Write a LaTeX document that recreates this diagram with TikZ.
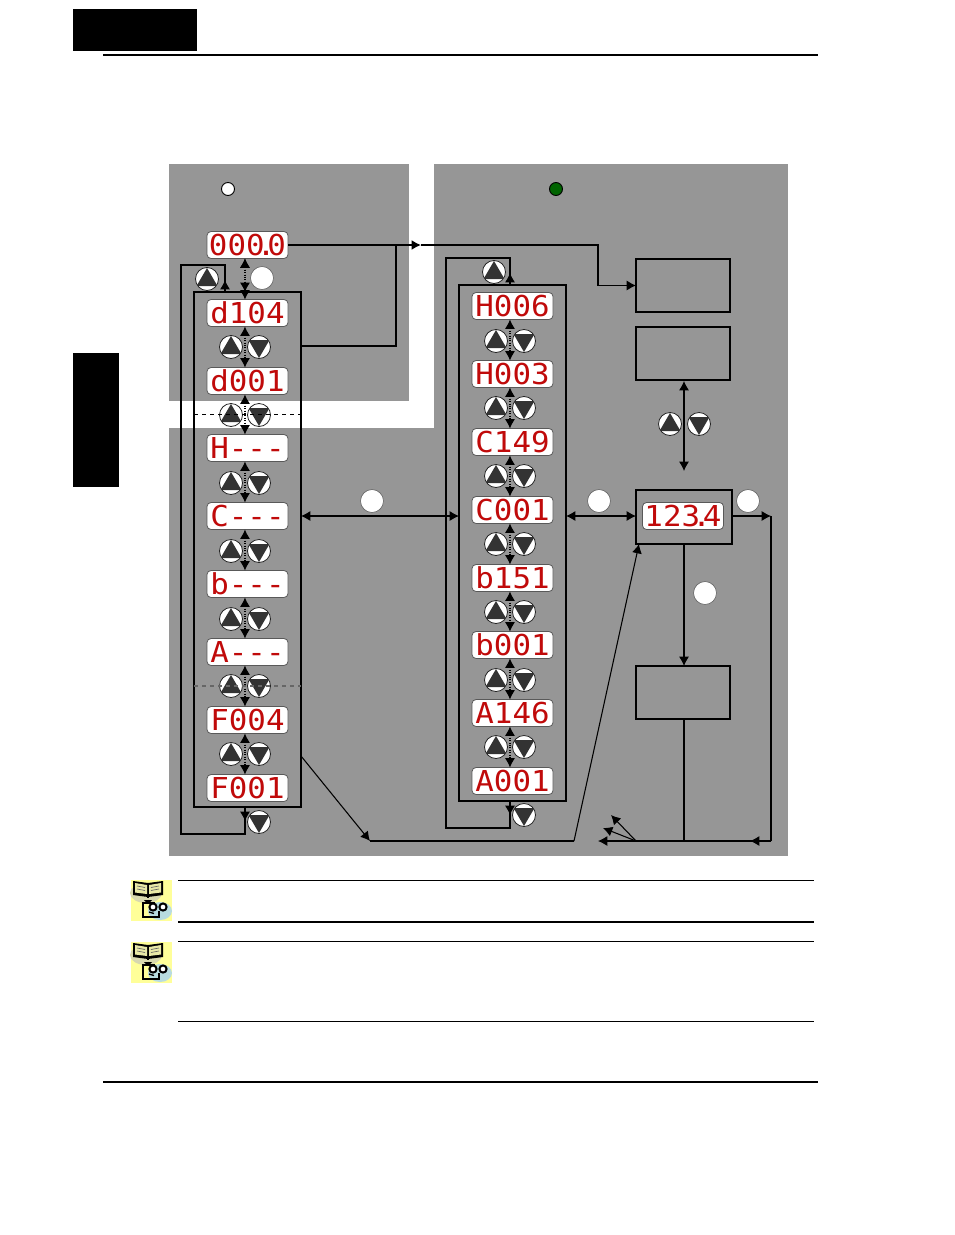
\documentclass[tikz,border=0pt]{standalone}
\usepackage{fontspec}
\usepackage{graphicx}
\usetikzlibrary{arrows.meta}
\newfontfamily\ledfont{DejaVu Sans Mono}
\definecolor{panel}{HTML}{969696}
\definecolor{ledred}{HTML}{C00A0A}
\definecolor{btndark}{HTML}{333333}
\definecolor{iconyellow}{HTML}{FFFF99}
\definecolor{iconbeige}{HTML}{D8D8B0}
\definecolor{iconblue}{HTML}{B8DCE0}
\definecolor{ledgreen}{HTML}{006400}
\newcommand{\ledtxt}[1]{\scalebox{1.07}[1]{#1}}
\newcommand{\ledkern}{\kern-5.5pt}
\tikzset{
  x=.75pt,y=-.75pt,
  tip/.style={-{Latex[length=7pt,width=7.5pt]}},
  tips/.style={{Latex[length=7pt,width=7.5pt]}-{Latex[length=7pt,width=7.5pt]}},
  wire/.style={line width=.8pt,black},
  sz/.style 2 args={minimum width=#1*.75pt,minimum height=#2*.75pt},
  frame/.style={draw=black,line width=.8pt,inner sep=0pt,outer sep=0pt},
  ledbox/.style={draw=black!65,line width=.6pt,fill=white,rounded corners=3pt,inner sep=0pt,outer sep=0pt,
    sz={81}{27},font=\ledfont\fontsize{21.6pt}{22pt}\selectfont,text=ledred,text height=15.75pt,text depth=0pt},
  link/.style={wire,densely dotted,tips},
  blank/.style={circle,draw=black!60,line width=.5pt,fill=white,inner sep=0pt,minimum size=23*.75pt,outer sep=0pt},
  btnup/.style={blank,draw=black!85,line width=.6pt,path picture={
    \fill[btndark] ([shift={(0,-11)}]path picture bounding box.center)
      -- ([shift={(-10.5,7)}]path picture bounding box.center)
      -- ([shift={(10.5,7)}]path picture bounding box.center) -- cycle;}},
  btndown/.style={blank,draw=black!85,line width=.6pt,path picture={
    \fill[btndark] ([shift={(0,11)}]path picture bounding box.center)
      -- ([shift={(-10.5,-7)}]path picture bounding box.center)
      -- ([shift={(10.5,-7)}]path picture bounding box.center) -- cycle;}},
  lamp/.style={circle,draw=black,line width=.7pt,inner sep=0pt,minimum size=13*.75pt},
  noteicon/.pic={
    \fill[iconyellow] (0,0) rectangle (41,41);
    \fill[iconbeige] (15,13) ellipse (16 and 10);
    \fill[iconblue] (29,31) ellipse (12 and 9);
    \fill[black] (2,1) -- (17,3) -- (32,1) -- (32,15) -- (17,17) -- (2,15) -- cycle;
    \fill[iconbeige!60!iconyellow] (4,3) -- (16,5) -- (16,14) -- (4,12.5) -- cycle;
    \fill[iconbeige!60!iconyellow] (30,3) -- (18,5) -- (18,14) -- (30,12.5) -- cycle;
    \draw[black!60,line width=.5pt] (6,6) -- (14,7.5) (6,9) -- (14,10.5) (28,6) -- (20,7.5) (28,9) -- (20,10.5);
    \draw[black,line width=1pt,densely dotted] (17,17) -- (17,20);
    \fill[black] (13,20) -- (21,20) -- (17,24) -- cycle;
    \draw[black,line width=1.6pt] (24,23) -- (12,23) -- (12,37) -- (28,37) -- (28,31);
    \draw[black,line width=1pt] (18,32) -- (23,33.5);
    \draw[black,line width=1.5pt,fill=white] (22,27) circle (3.6);
    \draw[black,line width=1.5pt,fill=white] (32,27) circle (3.6);
  }
}
\begin{document}
\begin{tikzpicture}[line cap=butt]
\useasboundingbox (0,0) rectangle (954,1235);
% page furniture
\fill[black] (73,9) rectangle (197,51);
\fill[black] (73,353) rectangle (119,487);
\draw[black,line width=1.3pt] (103,55) -- (818,55);
\draw[black,line width=2pt] (103,1082) -- (818,1082);
% grey panels
\fill[panel] (169,164) rectangle (409,401);
\fill[panel] (434,164) rectangle (788,430);
\fill[panel] (169,428) rectangle (788,856);
% lamps
\node[lamp,fill=white] (lampoff) at (228,189) {};
\node[lamp,fill=ledgreen] (lampon) at (556,189) {};
% frames
\node[frame,sz={107}{515}] (LC) at (247.5,549.5) {};
\node[frame,sz={107}{516}] (RC) at (512.5,543) {};
\node[frame,sz={94}{53}] (boxA) at (683,285.5) {};
\node[frame,sz={94}{53}] (boxB) at (683,353.5) {};
\node[frame,sz={96}{54}] (boxD) at (684,517) {};
\node[frame,sz={94}{53}] (boxC) at (683,692.5) {};
% displays, left column
\node[ledbox] (D0) at (247.5,245) {\ledtxt{000\ledkern.\ledkern0}};
\node[ledbox] (L1) at (247.5,313) {\ledtxt{d104}};
\node[ledbox] (L2) at (247.5,381) {\ledtxt{d001}};
\node[ledbox] (L3) at (247.5,448) {\ledtxt{H---}};
\node[ledbox] (L4) at (247.5,516) {\ledtxt{C---}};
\node[ledbox] (L5) at (247.5,584) {\ledtxt{b---}};
\node[ledbox] (L6) at (247.5,652) {\ledtxt{A---}};
\node[ledbox] (L7) at (247.5,720) {\ledtxt{F004}};
\node[ledbox] (L8) at (247.5,788) {\ledtxt{F001}};
% displays, right column
\node[ledbox] (R1) at (512.5,306) {\ledtxt{H006}};
\node[ledbox] (R2) at (512.5,374) {\ledtxt{H003}};
\node[ledbox] (R3) at (512.5,442) {\ledtxt{C149}};
\node[ledbox] (R4) at (512.5,510) {\ledtxt{C001}};
\node[ledbox] (R5) at (512.5,578) {\ledtxt{b151}};
\node[ledbox] (R6) at (512.5,645) {\ledtxt{b001}};
\node[ledbox] (R7) at (512.5,713) {\ledtxt{A146}};
\node[ledbox] (R8) at (512.5,781) {\ledtxt{A001}};
\node[ledbox] (D9) at (683,516) {\ledtxt{123\ledkern.\ledkern4}};
% dashed separators
\coordinate (dashLa) at (194,414); \coordinate (dashLb) at (301,414);
\coordinate (dashGa) at (194,686); \coordinate (dashGb) at (301,686);
% dotted links
\foreach \a/\b in {D0/L1,L1/L2,L2/L3,L3/L4,L4/L5,L5/L6,L6/L7,L7/L8}
  \draw[link] ([xshift=-1.9pt]\a.south) -- ([xshift=-1.9pt]\b.north);
\foreach \a/\b in {R1/R2,R2/R3,R3/R4,R4/R5,R5/R6,R6/R7,R7/R8}
  \draw[link] ([xshift=-1.9pt]\a.south) -- ([xshift=-1.9pt]\b.north);
% buttons
\foreach \i/\y in {1/347,2/415,3/483,4/551,5/619,6/686,7/754}{
  \node[btnup] (LU\i) at (231,\y) {};
  \node[btndown] (LD\i) at (259,\y) {};}
\foreach \i/\y in {1/341,2/408,3/476,4/544,5/612,6/680,7/747}{
  \node[btnup] (RU\i) at (496,\y) {};
  \node[btndown] (RD\i) at (524,\y) {};}
\node[btnup] (LUtop) at (207,279) {};
\node[btndown] (LDbot) at (259,822) {};
\node[btnup] (RUtop) at (494,272) {};
\node[btndown] (RDbot) at (524,815) {};
\node[btnup] (MU) at (670,424) {};
\node[btndown] (MD) at (699,424) {};
\draw[black,line width=.7pt,dashed] (dashLa) -- (dashLb);
\draw[black!60,line width=.8pt,dashed] (dashGa) -- (dashGb);
% blank callouts
\node[blank] (c1) at (262,278) {};
\node[blank] (c2) at (372,501) {};
\node[blank] (c3) at (599,501) {};
\node[blank] (c4) at (748,501) {};
\node[blank] (c5) at (705,593) {};
% junctions
\coordinate (j0) at (396,245);
\coordinate (j1) at (421,245);
\coordinate (j2) at (598,245);
\coordinate (j3) at (396,346);
\coordinate (ll1) at (245,834);
\coordinate (ll2) at (181,834);
\coordinate (ll3) at (181,265);
\coordinate (ll4) at (225,265);
\coordinate (rl1) at (510,828);
\coordinate (rl2) at (446,828);
\coordinate (rl3) at (446,258);
\coordinate (rl4) at (510,258);
\coordinate (bus0) at (370,841);
\coordinate (bus1) at (574,841);
\coordinate (bus2) at (636,841);
\coordinate (bus3) at (684,841);
\coordinate (bus4) at (771,841);
\coordinate (busmid) at (750,841);
\coordinate (busend) at (598,841);
\coordinate (fan1) at (611,815);
\coordinate (fan2) at (603,828);
\coordinate (midtop) at (684,381);
\coordinate (midbot) at (684,471);
\coordinate (diagstart) at (301,756);
\coordinate (diagend) at (639,544);
% connectors
\draw[wire,tip,line width=1.3pt] (D0.east) -- (j1);
\draw[wire,line width=1.1pt] (j1) -- (j2) -- (j2 |- boxA.west);
\draw[wire,tip] (j2 |- boxA.west) -- (boxA.west);
\draw[wire] (LC.east |- j3) -- (j3) -- (j0);
\draw[link] ([xshift=-1.9pt]D0.south) -- ([xshift=-1.9pt]D0.south |- LC.north);
\draw[wire] (ll4 |- LC.north) -- (ll4) -- (ll3) -- (ll2) -- (ll1) -- (ll1 |- LC.south);
\draw[wire,tip] (ll4 |- LC.north) -- ++(0,-12);
\draw[wire,tip] (ll1 |- LC.south) -- ++(0,14);
\draw[wire] (rl4 |- RC.north) -- (rl4) -- (rl3) -- (rl2) -- (rl1) -- (rl1 |- RC.south);
\draw[wire,tip] (rl4 |- RC.north) -- ++(0,-12);
\draw[wire,tip] (rl1 |- RC.south) -- ++(0,14);
\draw[wire,tips] (LC.east |- L4) -- (RC.west |- L4);
\draw[wire,tips] (RC.east |- L4) -- (boxD.west |- L4);
\draw[wire,tips] (midtop) -- (midbot);
\draw[wire,tip] (boxD.east |- L4) -- (bus4 |- L4);
\draw[wire] (bus4 |- L4) -- (bus4);
\draw[wire,tip] (bus4) -- (busend);
\draw[wire,tip] (bus4) -- (busmid);
\draw[wire,tip] (boxD.south -| bus3) -- (boxC.north -| bus3);
\draw[wire] (boxC.south -| bus3) -- (bus3);
\draw[wire,tip] (diagstart) -- (bus0);
\draw[wire] (bus0) -- (bus1);
\draw[wire,tip] (bus1) -- (diagend);
\draw[wire,tip] (bus2) -- (fan1);
\draw[wire,tip] (bus2) -- (fan2);
% note rules
\draw[black,line width=.7pt] (178,880) -- (814,880);
\draw[black,line width=1.4pt] (178,922) -- (814,922);
\draw[black,line width=.7pt] (178,941) -- (814,941);
\draw[black,line width=.7pt] (178,1021) -- (814,1021);
% note icons
\pic at (131,880) {noteicon};
\pic at (131,942) {noteicon};
\end{tikzpicture}
\end{document}
